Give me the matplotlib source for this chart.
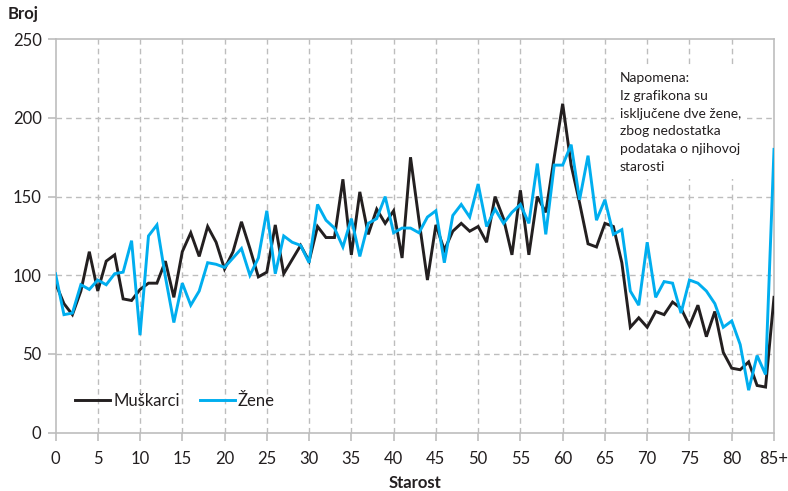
import matplotlib
matplotlib.use("Agg")
import matplotlib.pyplot as plt
import numpy as np

plt.rcParams['font.family'] = ['Lato', 'DejaVu Sans']

ages = list(range(86))
tick_pos = list(range(0, 86, 5))
tick_labels = [str(t) for t in range(0, 85, 5)] + ["85+"]

muskarci = [95, 82, 75, 90, 115, 90, 109, 113, 85, 84,
            91, 95, 95, 109, 86, 115, 127, 112, 131, 121,
            104, 115, 134, 117, 99, 102, 132, 101, 110, 119,
            109, 131, 124, 124, 161, 113, 153, 126, 142, 133,
            141, 111, 175, 135, 97, 132, 116, 128, 133, 128,
            131, 121, 150, 136, 113, 154, 113, 150, 140, 175,
            209, 170, 146, 120, 118, 133, 131, 108, 67, 73,
            67, 77, 75, 83, 79, 68, 81, 61, 77, 51,
            41, 40, 45, 30, 29, 86]

zene = [101, 75, 76, 94, 91, 97, 94, 101, 102, 122,
        62, 125, 132, 99, 70, 95, 81, 90, 108, 107,
        105, 111, 117, 100, 111, 141, 101, 125, 121, 119,
        108, 145, 135, 130, 118, 136, 112, 133, 136, 150,
        127, 130, 130, 127, 137, 141, 108, 138, 145, 137,
        158, 131, 142, 133, 140, 145, 133, 171, 126, 170,
        170, 183, 148, 176, 135, 148, 126, 129, 90, 81,
        121, 86, 96, 95, 76, 97, 95, 90, 82, 67,
        71, 56, 27, 49, 37, 180]

note = "Napomena:\nIz grafikona su\nisključene dve žene,\nzbog nedostatka\npodataka o njihovoj\nstarosti"

fig = plt.figure(figsize=(7.88, 4.91), dpi=100)
ax = fig.add_axes([55.5/788, 1-432.7/491, (774-55.5)/788, (432.7-39.2)/491])

grid_c = '#bdbdbd'
for xv in range(5, 85, 5):
    ax.axvline(xv, color=grid_c, lw=1.0, ls=(0, (4, 3)), zorder=0)
for yv in range(50, 250, 50):
    ax.axhline(yv, color=grid_c, lw=1.0, ls=(0, (4, 3)), zorder=0)

ax.plot(ages, muskarci, color='#231f20', lw=2.1, label='Muškarci', zorder=3, solid_joinstyle='miter')
ax.plot(ages, zene, color='#00aeef', lw=2.1, label='Žene', zorder=3, solid_joinstyle='miter')

ax.set_xlim(0, 85)
ax.set_ylim(0, 250)
ax.set_xticks(tick_pos)
ax.set_xticklabels(tick_labels)
ax.set_yticks(range(0, 251, 50))
for s in ax.spines.values():
    s.set_color(grid_c)
    s.set_linewidth(1.2)
ax.tick_params(axis='both', colors=grid_c, length=6, width=1.2, labelcolor='#231f20', labelsize=12)
ax.tick_params(axis='x', pad=7)
ax.tick_params(axis='y', pad=4)

fig.text((55.5 + 774) / 2 / 788, 1-483/491, 'Starost', fontsize=12, fontweight='bold',
         color='#231f20', va='center', ha='center')
fig.text(8/788, 1-14/491, 'Broj', fontsize=12, fontweight='bold', color='#231f20', va='center', ha='left')

leg = ax.legend(loc='lower left', bbox_to_anchor=(0.006, 0.022), frameon=False, ncol=2,
                fontsize=12, handlelength=2.1, columnspacing=1.2, handletextpad=0.2)
for t in leg.get_texts():
    t.set_color('#231f20')

fig.text(620/788, 1-72/491, note, fontsize=10, color='#231f20', va='top', ha='left',
         linespacing=1.58,
         bbox=dict(facecolor='white', edgecolor='none', pad=4), zorder=5)

fig.savefig('out.png', dpi=100)
